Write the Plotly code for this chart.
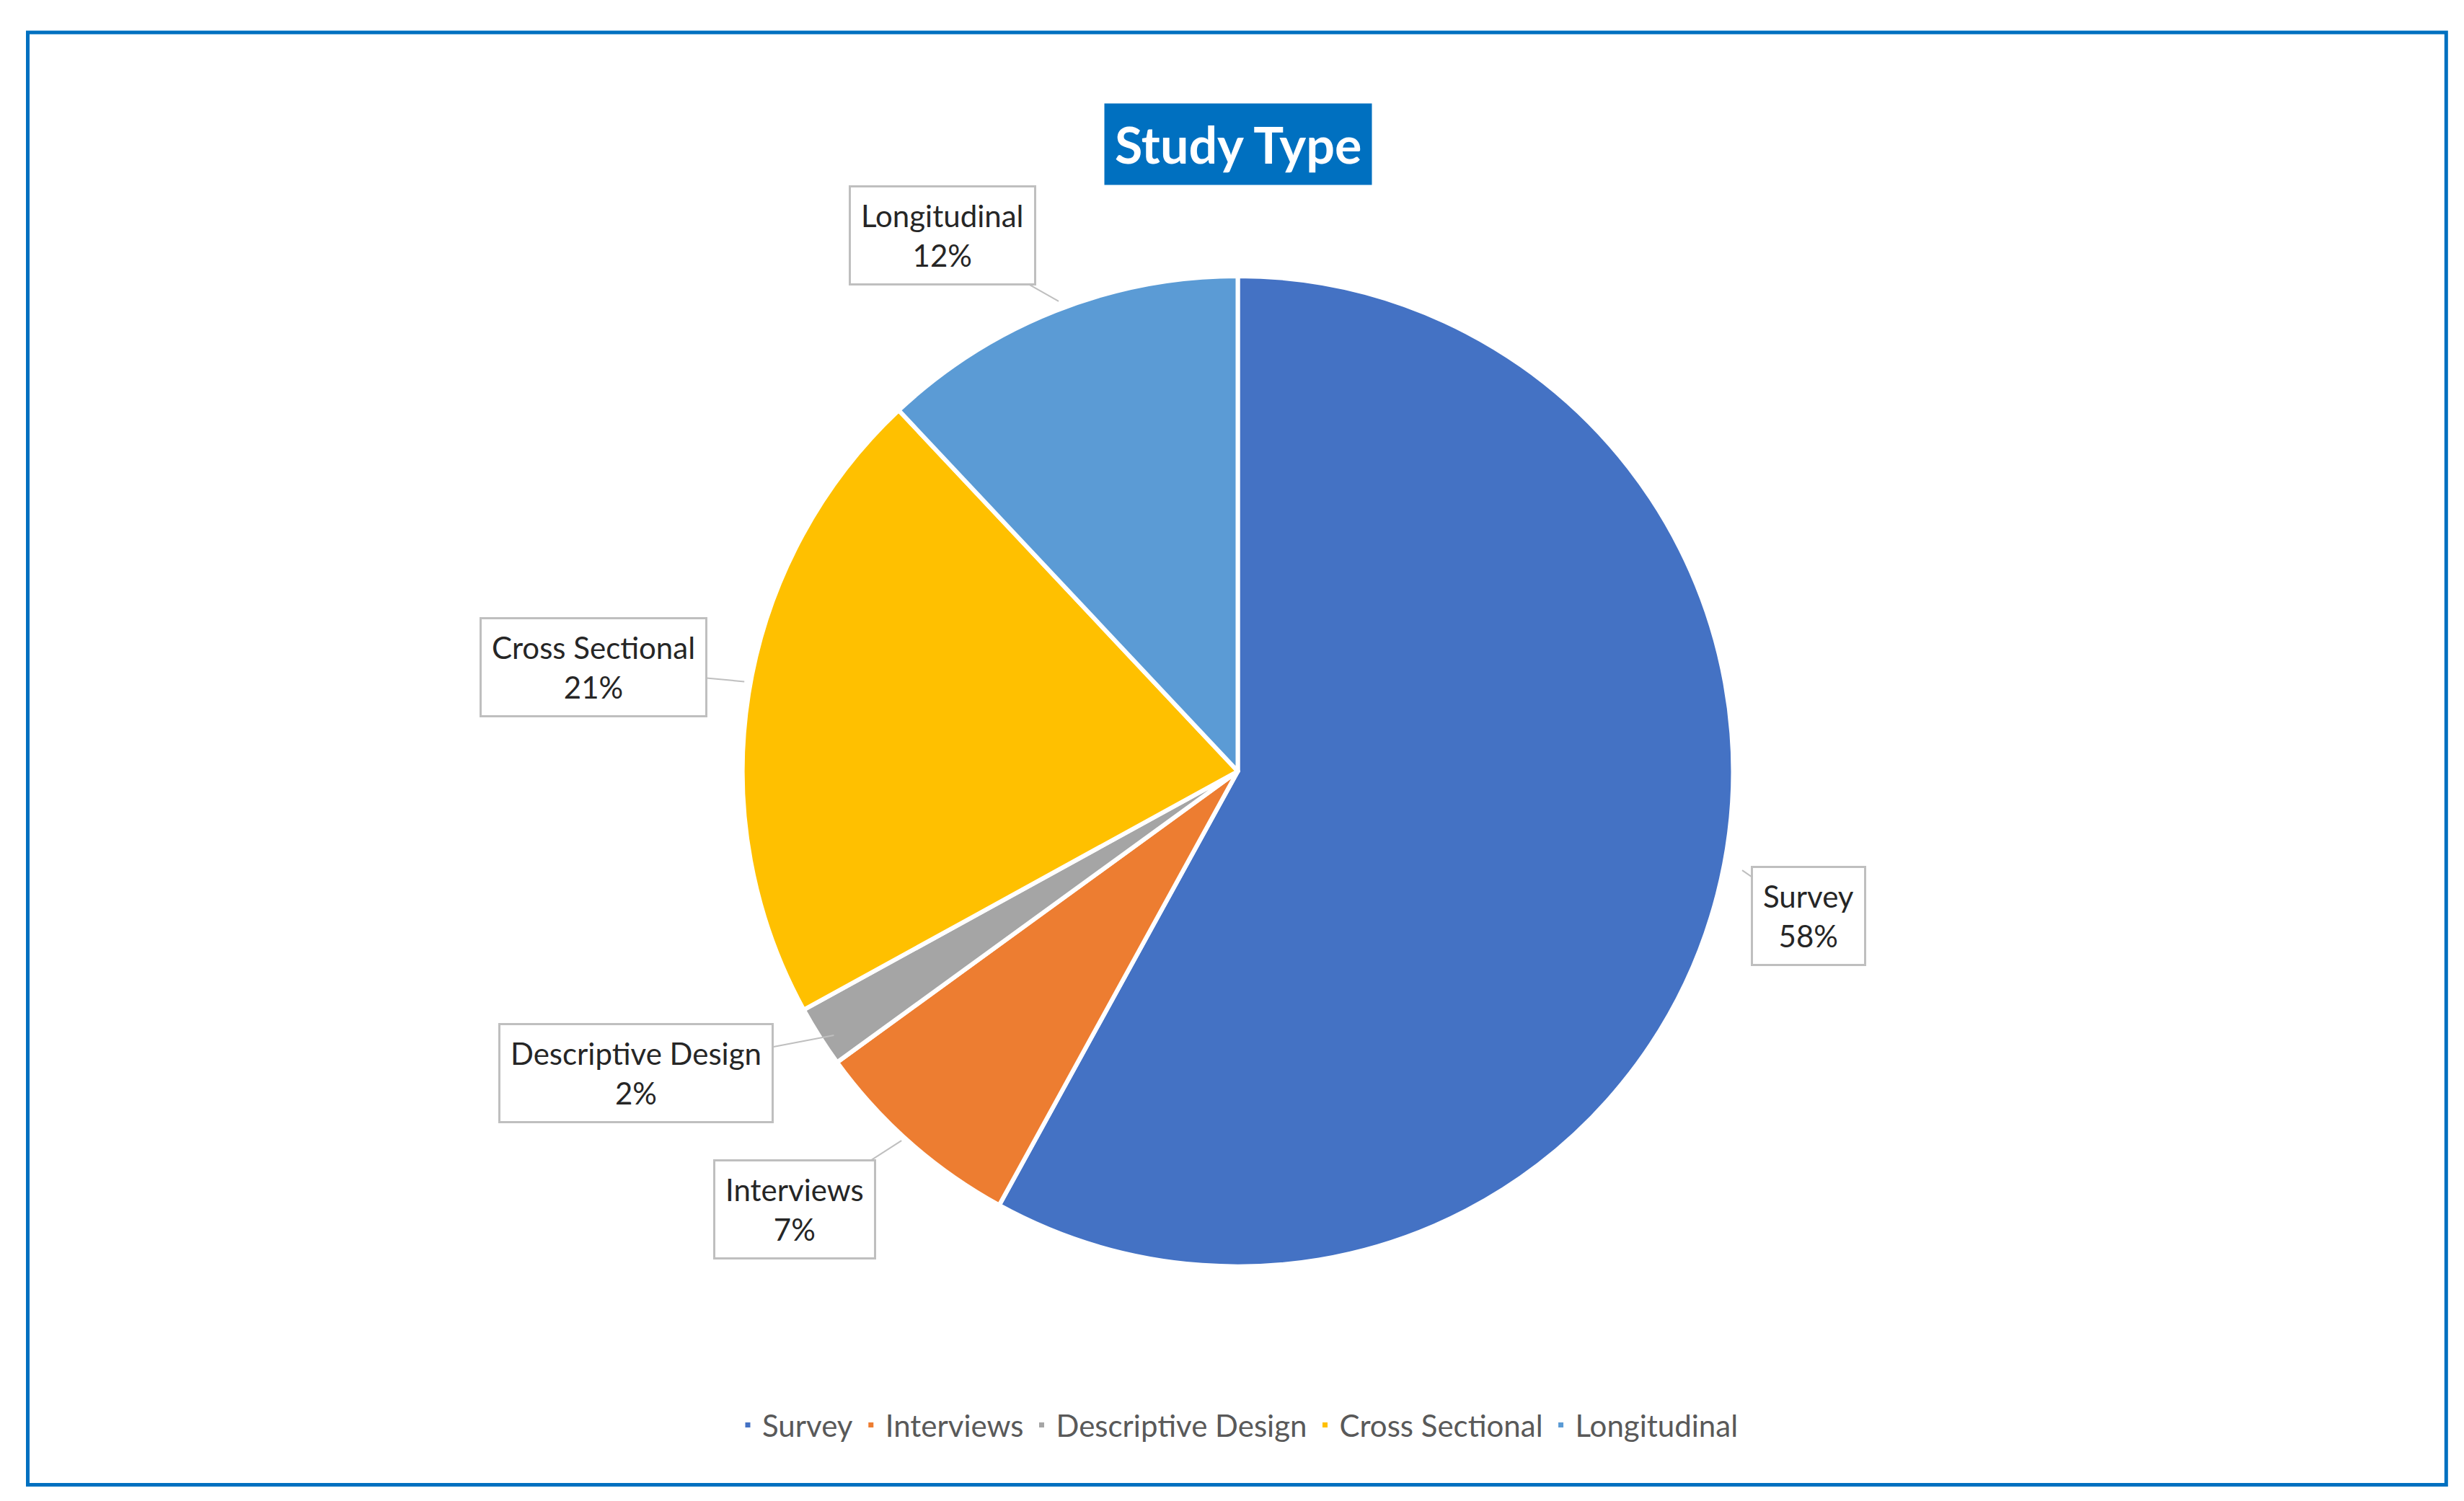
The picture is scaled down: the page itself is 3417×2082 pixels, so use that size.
import plotly.graph_objects as go

categories = ["Survey", "Interviews", "Descriptive Design", "Cross Sectional", "Longitudinal"]
values = [58, 7, 2, 21, 12]
colors = ["#4472C4", "#ED7D31", "#A5A5A5", "#FFC000", "#5B9BD5"]

W, H = 3417, 2082
DW, DH = 1568, 955
S = W / DW

fig = go.Figure(go.Pie(
    labels=categories, values=values, sort=False, direction="clockwise", rotation=0,
    marker=dict(colors=colors, line=dict(color="white", width=6)),
    textinfo="none", hoverinfo="label+percent",
    domain=dict(x=[0.299, 0.701], y=[0.159, 0.821]),
))

# (pointer x, pointer y, box center x, box center y) in display coordinates
callouts = {
    "Survey": (1105, 550, 1147, 579),
    "Interviews": (570, 722, 502, 766),
    "Descriptive Design": (527, 655, 401, 679),
    "Cross Sectional": (470, 430, 374, 421),
    "Longitudinal": (670, 188, 596, 146),
}
total = sum(values)
anns = []
for cat, v in zip(categories, values):
    px, py, bx, by = callouts[cat]
    anns.append(dict(
        x=px / DW, y=1 - py / DH, xref="paper", yref="paper",
        ax=(bx - px) * S, ay=(by - py) * S,
        text=f"{cat}<br>{round(v / total * 100)}%",
        showarrow=True, arrowhead=0, arrowwidth=2, arrowcolor="#BFBFBF",
        bordercolor="#BFBFBF", borderwidth=3, borderpad=14, bgcolor="white",
        font=dict(family="Lato", size=42, color="#262626"),
    ))
anns.append(dict(
    x=0.5, y=1 - 62 / DH, xref="paper", yref="paper", showarrow=False,
    text="<b>Study Type</b>", bgcolor="#0070C0", borderpad=14,
    font=dict(family="Lato", size=70, color="white"),
))

fig.update_layout(
    width=W, height=H, margin=dict(l=0, r=0, t=0, b=0),
    paper_bgcolor="white", plot_bgcolor="white",
    annotations=anns,
    showlegend=True,
    legend=dict(orientation="h", x=0.5, xanchor="center", y=1 - 903 / DH, yanchor="middle",
                font=dict(family="Lato", size=42, color="#595959"), itemwidth=30),
    shapes=[dict(type="rect", xref="paper", yref="paper",
                 x0=14 / DW, x1=1553 / DW, y0=1 - 941 / DH, y1=1 - 17 / DH,
                 line=dict(color="#0070C0", width=5))],
)
fig.write_html("out.html")
